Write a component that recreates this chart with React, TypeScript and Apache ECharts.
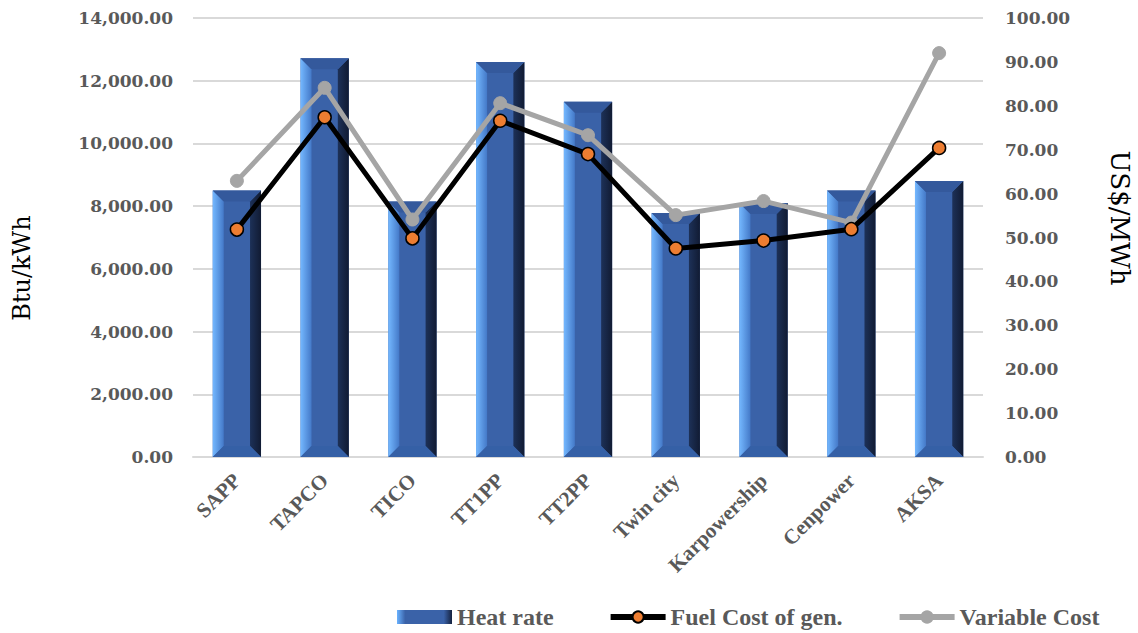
import React, { useEffect, useRef } from "react";
import * as echarts from "echarts";

const categories = ["SAPP", "TAPCO", "TICO", "TT1PP", "TT2PP", "Twin city", "Karpowership", "Cenpower", "AKSA"];
const heatRate = [8500, 12720, 8150, 12600, 11330, 7780, 8100, 8500, 8800];
const fuelCost = [51.8, 77.4, 49.8, 76.6, 69.0, 47.5, 49.3, 51.9, 70.4];
const variableCost = [62.9, 84.1, 54.1, 80.6, 73.3, 55.1, 58.3, 53.4, 92.0];

const leftTicks = { min: 0, max: 14000, interval: 2000 };
const rightTicks = { min: 0, max: 100, interval: 10 };

const fmt = (v: number) => {
  const s = v.toFixed(2);
  const [a, b] = s.split(".");
  return a.replace(/\B(?=(\d{3})+(?!\d))/g, ",") + "." + b;
};

const SERIF = "'DejaVu Serif', 'Liberation Serif', serif";
const TIMES = "'Liberation Serif', serif";
const GREY = "#595959";

export default function App() {
  const ref = useRef<HTMLDivElement>(null);
  useEffect(() => {
    if (!ref.current) return;
    const chart = echarts.init(ref.current, null, { renderer: "svg" });
    const option: any = {
      animation: false,
      backgroundColor: "#ffffff",
      grid: { left: 193, right: 155, top: 18, bottom: 176, containLabel: false },
      legend: {
        left: 392,
        top: 600,
        itemGap: 54,
        itemWidth: 55,
        itemHeight: 14,
        textStyle: { fontFamily: TIMES, fontWeight: "bold", fontSize: 24, color: GREY },
        data: [
          {
            name: "Heat rate",
            icon: "rect",
            itemStyle: {
              color: new echarts.graphic.LinearGradient(0, 0, 1, 0, [
                { offset: 0, color: "#6ab2ff" },
                { offset: 0.15, color: "#3a62a8" },
                { offset: 0.85, color: "#3a62a8" },
                { offset: 1, color: "#15223f" },
              ]),
            },
          },
          { name: "Fuel Cost of gen.", lineStyle: { width: 6, color: "#000000" } },
          { name: "Variable Cost", lineStyle: { width: 6, color: "#a5a5a5" } },
        ],
      },
      xAxis: {
        type: "category",
        data: categories,
        axisLine: { lineStyle: { color: "#d9d9d9", width: 2 } },
        axisTick: { show: false },
        axisLabel: {
          rotate: 45,
          interval: 0,
          margin: 20,
          fontFamily: TIMES,
          fontWeight: "bold",
          fontSize: 21,
          color: GREY,
        },
      },
      yAxis: [
        {
          type: "value",
          ...leftTicks,
          axisLine: { show: false },
          axisTick: { show: false },
          splitLine: { lineStyle: { color: "#d9d9d9", width: 2 } },
          axisLabel: {
            formatter: (v: number) => fmt(v),
            margin: 20,
            fontFamily: SERIF,
            fontWeight: "bold",
            fontSize: 17,
            color: GREY,
          },
        },
        {
          type: "value",
          ...rightTicks,
          position: "right",
          axisLine: { show: false },
          axisTick: { show: false },
          splitLine: { show: false },
          axisLabel: {
            formatter: (v: number) => fmt(v),
            margin: 22,
            fontFamily: SERIF,
            fontWeight: "bold",
            fontSize: 17,
            color: GREY,
          },
        },
      ],
      graphic: [
        {
          type: "text",
          x: 22,
          y: 268,
          rotation: Math.PI / 2,
          style: {
            text: "Btu/kWh",
            font: "24px 'DejaVu Serif', serif",
            fill: "#000000",
            align: "center",
            verticalAlign: "middle",
          },
        },
        {
          type: "text",
          x: 1120,
          y: 218,
          rotation: -Math.PI / 2,
          style: {
            text: "US$/MWh",
            font: "26px 'DejaVu Serif', serif",
            fill: "#000000",
            align: "center",
            verticalAlign: "middle",
          },
        },
      ],
      series: [
        {
          name: "Heat rate",
          type: "custom",
          yAxisIndex: 0,
          z: 2,
          encode: { x: 0, y: 1 },
          data: heatRate.map((v, i) => [i, v]),
          renderItem: (params: any, api: any) => {
            const i = api.value(0);
            const v = api.value(1);
            const top = api.coord([i, v]);
            const base = api.coord([i, 0]);
            const w = api.size([1, 0])[0] * 0.55;
            const x0 = top[0] - w / 2;
            const x1 = top[0] + w / 2;
            const y0 = top[1];
            const y1 = base[1];
            const d = 11;
            return {
              type: "group",
              children: [
                { type: "rect", shape: { x: x0, y: y0, width: w, height: y1 - y0 }, style: { fill: "#3a62a8" } },
                {
                  type: "polygon",
                  shape: { points: [[x0, y0], [x0 + d, y0 + d], [x0 + d, y1 - d], [x0, y1]] },
                  style: {
                    fill: new echarts.graphic.LinearGradient(0, 0, 1, 0, [
                      { offset: 0, color: "#74b8ff" },
                      { offset: 1, color: "#4479c8" },
                    ]),
                  },
                },
                {
                  type: "polygon",
                  shape: { points: [[x1, y0], [x1 - d, y0 + d], [x1 - d, y1 - d], [x1, y1]] },
                  style: {
                    fill: new echarts.graphic.LinearGradient(0, 0, 1, 0, [
                      { offset: 0, color: "#1d3158" },
                      { offset: 1, color: "#111b33" },
                    ]),
                  },
                },
                {
                  type: "polygon",
                  shape: { points: [[x0, y0], [x1, y0], [x1 - d, y0 + d], [x0 + d, y0 + d]] },
                  style: { fill: "#34599c" },
                },
                {
                  type: "polygon",
                  shape: { points: [[x0, y1], [x1, y1], [x1 - d, y1 - d], [x0 + d, y1 - d]] },
                  style: { fill: "#3560a6" },
                },
              ],
            };
          },
        },
        {
          name: "Fuel Cost of gen.",
          type: "line",
          yAxisIndex: 1,
          z: 4,
          data: fuelCost,
          lineStyle: { color: "#000000", width: 5 },
          symbol: "circle",
          symbolSize: 13,
          itemStyle: { color: "#ed7d31", borderColor: "#000000", borderWidth: 1.5 },
        },
        {
          name: "Variable Cost",
          type: "line",
          yAxisIndex: 1,
          z: 3,
          data: variableCost,
          lineStyle: { color: "#a5a5a5", width: 5 },
          symbol: "circle",
          symbolSize: 13,
          itemStyle: { color: "#a5a5a5", borderColor: "#a5a5a5", borderWidth: 1 },
        },
      ],
    };
    chart.setOption(option);
    return () => chart.dispose();
  }, []);
  return (
    <div
      ref={ref}
      style={{ position: "fixed", left: 0, top: 0, width: 1138, height: 633 }}
    />
  );
}
